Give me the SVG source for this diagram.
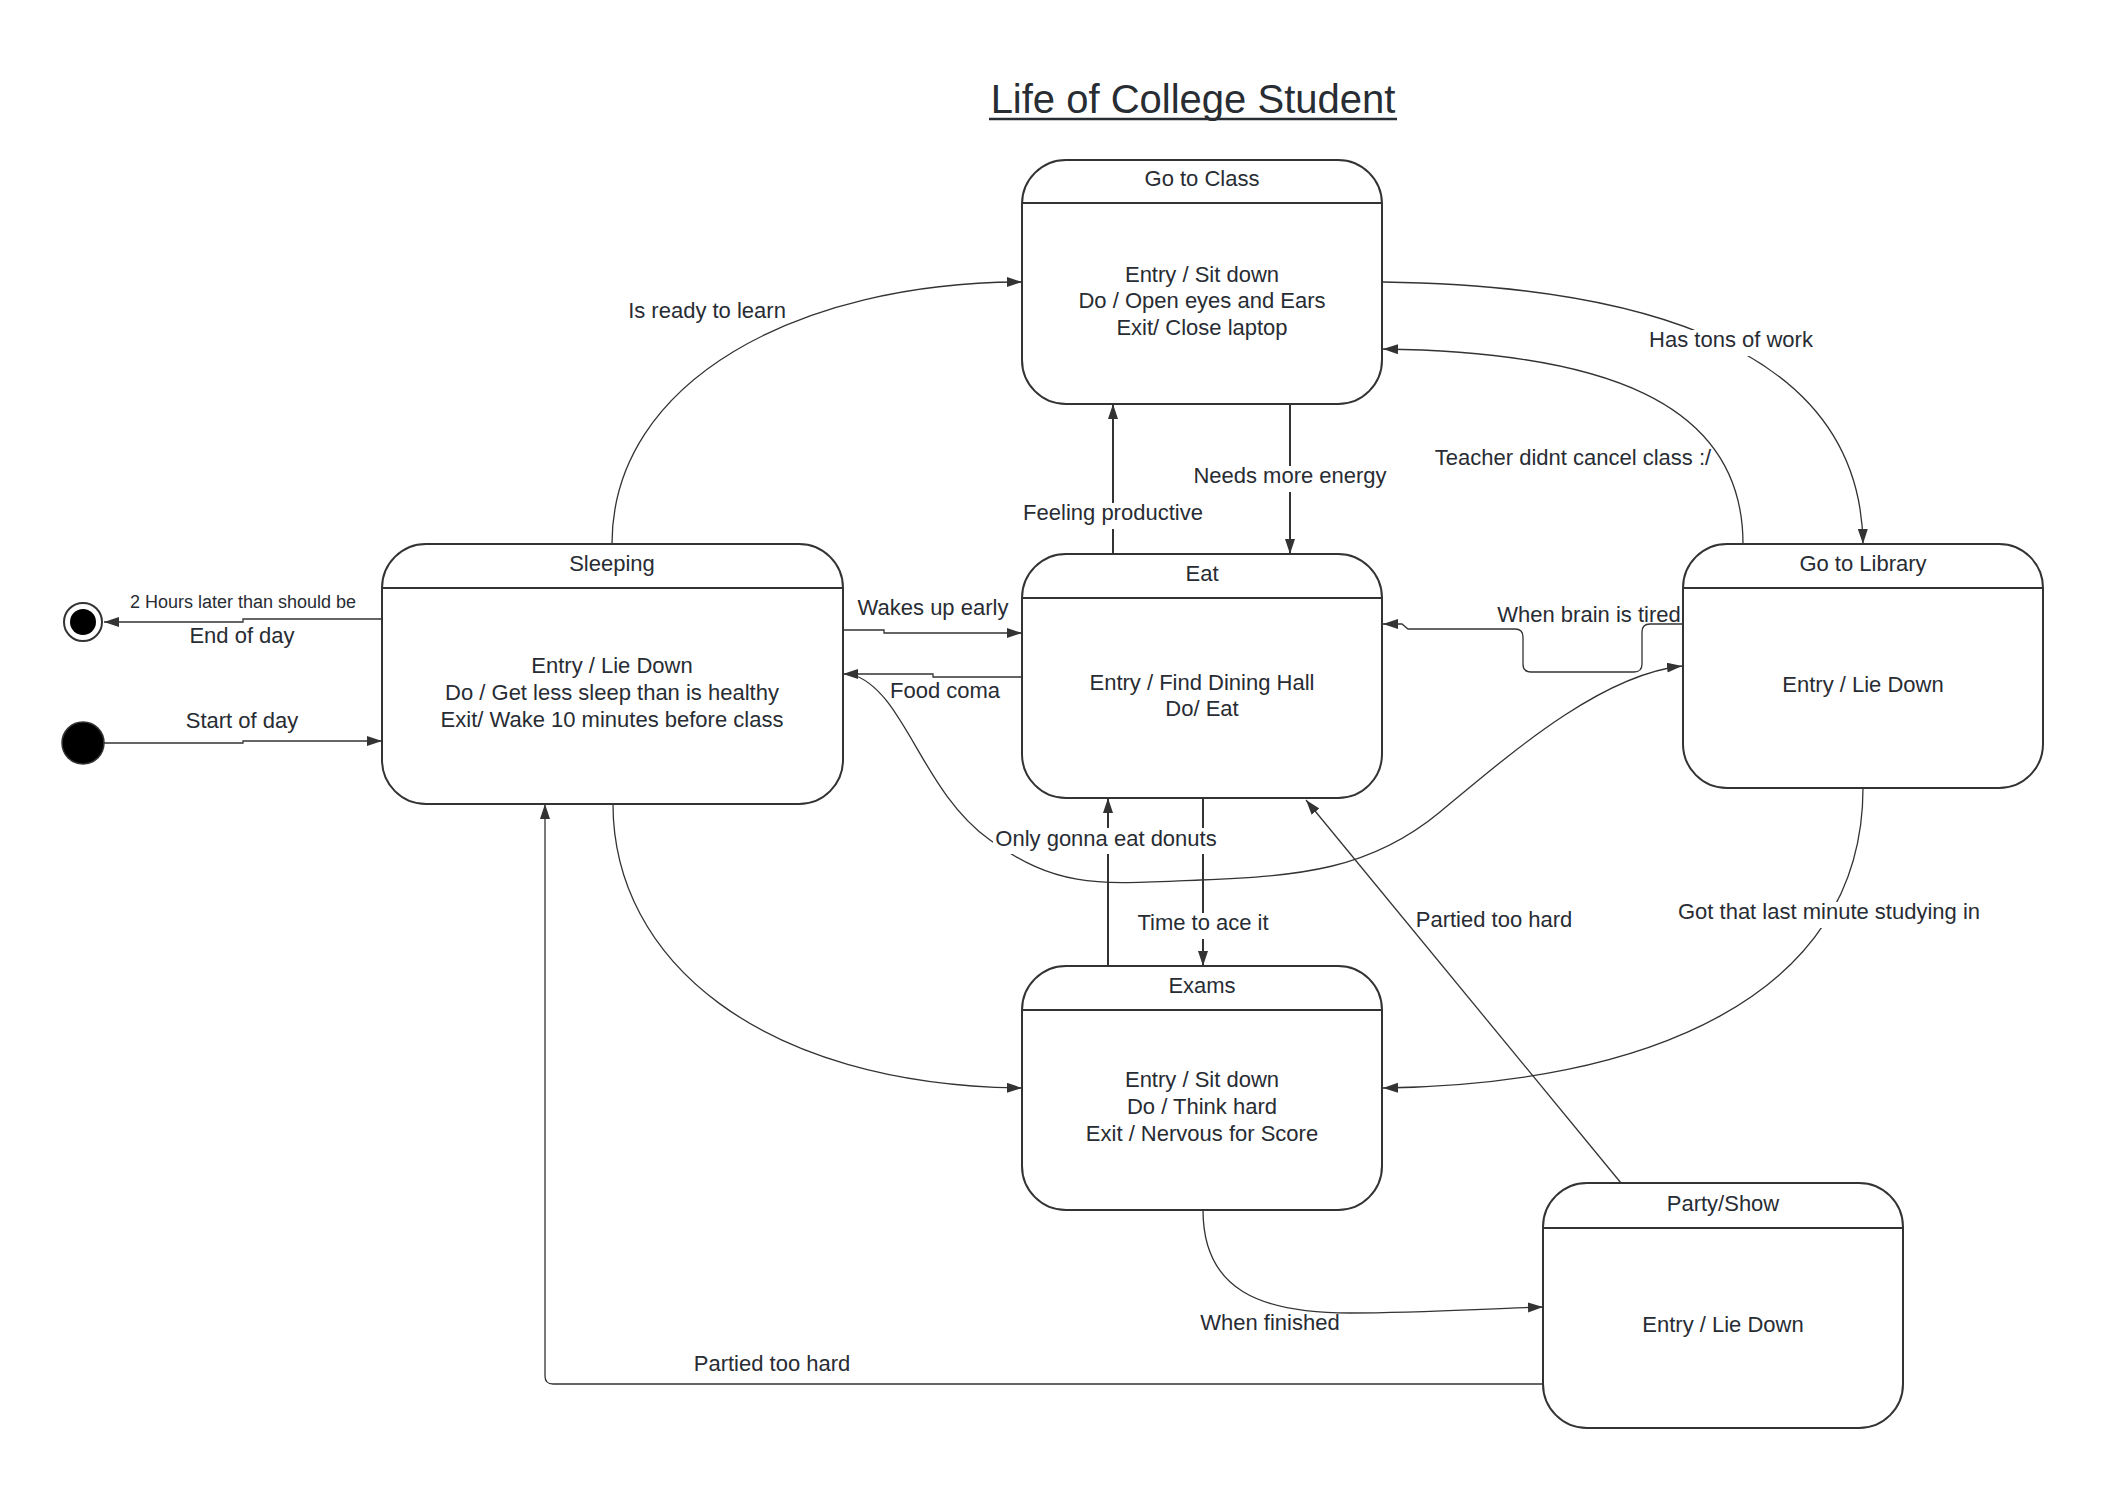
<svg xmlns="http://www.w3.org/2000/svg" width="2104" height="1490" viewBox="0 0 2104 1490">
<style>
.box{fill:#fff;stroke:#333;stroke-width:2}
.hdr{stroke:#333;stroke-width:2}
.t{font-family:"Liberation Sans",Arial,sans-serif;font-size:22px;fill:#282c33;text-anchor:middle}
.c{fill:none;stroke:#333;stroke-width:1.3}
.cs{stroke-width:2}
.bg{fill:#fff}
</style>
<defs>
<marker id="ah" markerUnits="userSpaceOnUse" markerWidth="16" markerHeight="12" refX="15" refY="5" orient="auto">
<path d="M0,0 L15,5 L0,10 z" fill="#333"/>
</marker>
</defs>
<rect width="2104" height="1490" fill="#fff"/>
<g id="title">
<text x="1193" y="113" class="t" style="font-size:40px">Life of College Student</text>
<line x1="989" y1="119" x2="1397" y2="119" stroke="#282c33" stroke-width="2.5"/>
</g>
<g id="connectors">
<path class="c" d="M104,743 H243 V741 H382" marker-end="url(#ah)"/>
<path class="c" d="M382,619 H243 V622 H104" marker-end="url(#ah)"/>
<path class="c" d="M612,544 C612,380 800,282 1022,282" marker-end="url(#ah)"/>
<path class="c" d="M1383,282 C1600,285 1860,330 1863,544" marker-end="url(#ah)"/>
<path class="c" d="M1743,544 C1743,400 1600,352 1383,349" marker-end="url(#ah)"/>
<path class="c cs" d="M1113,554 V404" marker-end="url(#ah)"/>
<path class="c cs" d="M1290,404 V554" marker-end="url(#ah)"/>
<path class="c" d="M843,630 H884 V633 H1022" marker-end="url(#ah)"/>
<path class="c" d="M1022,677 H933 V674 H843" marker-end="url(#ah)"/>
<path class="c" d="M851,674 C905,690 920,790 990,840 S1100,884 1200,880 S1370,870 1440,812 S1600,675 1682,666" marker-end="url(#ah)"/>
<path class="c" d="M1683,624 H1650 Q1642,624 1642,632 V664 Q1642,672 1634,672 H1531 Q1523,672 1523,664 V637 Q1523,629 1515,629 H1408 L1402,624 H1383" marker-end="url(#ah)"/>
<path class="c cs" d="M1203,798 V966" marker-end="url(#ah)"/>
<path class="c cs" d="M1108,966 V798" marker-end="url(#ah)"/>
<path class="c" d="M613,804 C613,960 760,1085 1022,1088" marker-end="url(#ah)"/>
<path class="c" d="M1863,788 C1863,1000 1640,1085 1383,1088" marker-end="url(#ah)"/>
<path class="c" d="M1203,1210 C1203,1290 1260,1313 1350,1313 C1420,1313 1480,1309 1543,1307" marker-end="url(#ah)"/>
<path class="c" d="M1621,1183 L1306,800" marker-end="url(#ah)"/>
<path class="c" d="M1543,1384 H553 Q545,1384 545,1376 V804" marker-end="url(#ah)"/>
</g>
<g id="labels">
<rect class="bg" x="1190" y="466" width="200" height="26"/>
<rect class="bg" x="1020" y="503" width="186" height="26"/>
<rect class="bg" x="993" y="828" width="228" height="26"/>
<rect class="bg" x="1130" y="913" width="146" height="26"/>
<rect class="bg" x="1674" y="902" width="312" height="26"/>
<rect class="bg" x="1645" y="330" width="172" height="26"/>
<text class="t" x="242" y="728">Start of day</text>
<text class="t" x="243" y="608" style="font-size:18px">2 Hours later than should be</text>
<text class="t" x="242" y="643">End of day</text>
<text class="t" x="707" y="318">Is ready to learn</text>
<text class="t" x="1731" y="347">Has tons of work</text>
<text class="t" x="1573" y="465">Teacher didnt cancel class :/</text>
<text class="t" x="1290" y="483">Needs more energy</text>
<text class="t" x="1113" y="520">Feeling productive</text>
<text class="t" x="933" y="615">Wakes up early</text>
<text class="t" x="945" y="698">Food coma</text>
<text class="t" x="1589" y="622">When brain is tired</text>
<text class="t" x="1106" y="846">Only gonna eat donuts</text>
<text class="t" x="1203" y="930">Time to ace it</text>
<text class="t" x="1494" y="927">Partied too hard</text>
<text class="t" x="1829" y="919">Got that last minute studying in</text>
<text class="t" x="1270" y="1330">When finished</text>
<text class="t" x="772" y="1371">Partied too hard</text>
</g>
<g id="initial">
<circle cx="83" cy="743" r="21" fill="#000" stroke="#333" stroke-width="1.5"/>
</g>
<g id="final">
<circle cx="83" cy="622" r="19" fill="#fff" stroke="#333" stroke-width="2"/>
<circle cx="83" cy="622" r="13" fill="#000"/>
</g>
<g id="go-to-class">
<rect class="box" x="1022" y="160" width="360" height="244" rx="44"/>
<line class="hdr" x1="1022" y1="203" x2="1382" y2="203"/>
<text class="t" x="1202" y="186">Go to Class</text>
<text class="t" x="1202" y="282">Entry / Sit down</text>
<text class="t" x="1202" y="308">Do / Open eyes and Ears</text>
<text class="t" x="1202" y="335">Exit/ Close laptop</text>
</g>
<g id="sleeping">
<rect class="box" x="382" y="544" width="461" height="260" rx="44"/>
<line class="hdr" x1="382" y1="588" x2="843" y2="588"/>
<text class="t" x="612" y="571">Sleeping</text>
<text class="t" x="612" y="673">Entry / Lie Down</text>
<text class="t" x="612" y="700">Do / Get less sleep than is healthy</text>
<text class="t" x="612" y="727">Exit/ Wake 10 minutes before class</text>
</g>
<g id="eat">
<rect class="box" x="1022" y="554" width="360" height="244" rx="44"/>
<line class="hdr" x1="1022" y1="598" x2="1382" y2="598"/>
<text class="t" x="1202" y="581">Eat</text>
<text class="t" x="1202" y="690">Entry / Find Dining Hall</text>
<text class="t" x="1202" y="716">Do/ Eat</text>
</g>
<g id="go-to-library">
<rect class="box" x="1683" y="544" width="360" height="244" rx="44"/>
<line class="hdr" x1="1683" y1="588" x2="2043" y2="588"/>
<text class="t" x="1863" y="571">Go to Library</text>
<text class="t" x="1863" y="692">Entry / Lie Down</text>
</g>
<g id="exams">
<rect class="box" x="1022" y="966" width="360" height="244" rx="44"/>
<line class="hdr" x1="1022" y1="1010" x2="1382" y2="1010"/>
<text class="t" x="1202" y="993">Exams</text>
<text class="t" x="1202" y="1087">Entry / Sit down</text>
<text class="t" x="1202" y="1114">Do / Think hard</text>
<text class="t" x="1202" y="1141">Exit / Nervous for Score</text>
</g>
<g id="party-show">
<rect class="box" x="1543" y="1183" width="360" height="245" rx="44"/>
<line class="hdr" x1="1543" y1="1228" x2="1903" y2="1228"/>
<text class="t" x="1723" y="1211">Party/Show</text>
<text class="t" x="1723" y="1332">Entry / Lie Down</text>
</g>
</svg>
